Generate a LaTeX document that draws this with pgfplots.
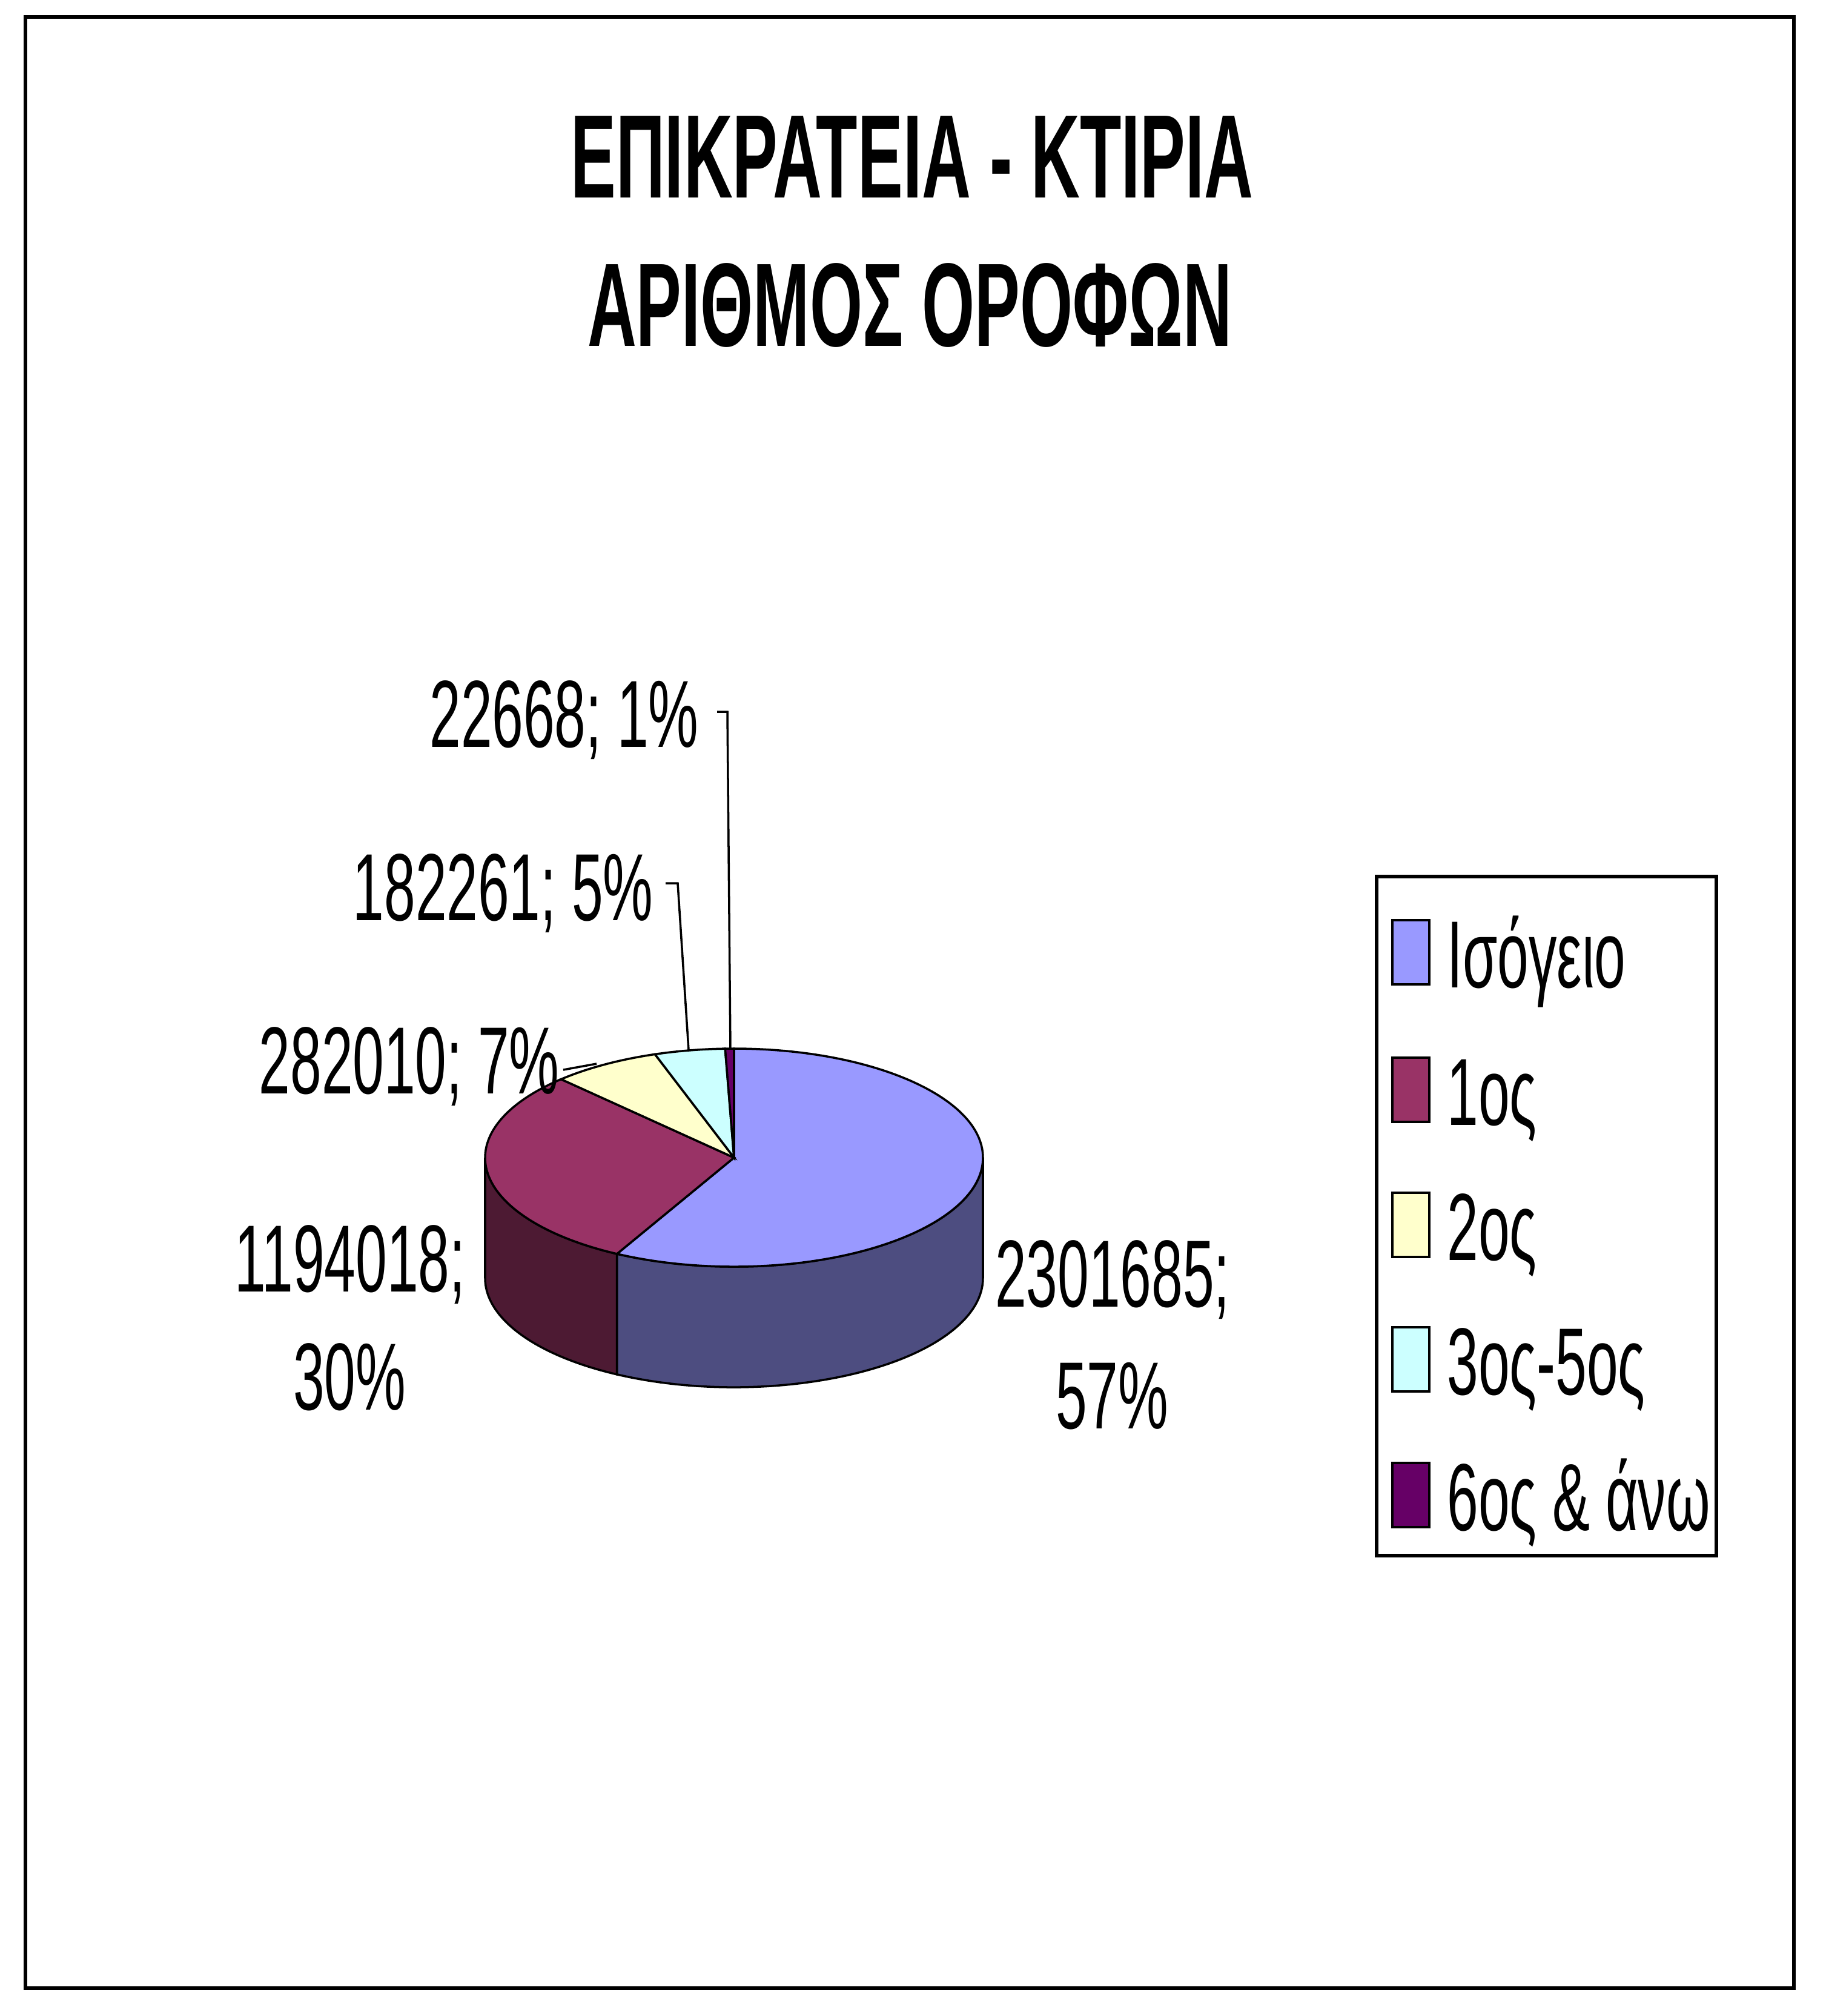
\documentclass[border=0pt]{standalone}
\usepackage{pgfplots}
\pgfplotsset{compat=1.18}
\usepackage{pgfplotstable}
\usepackage{fontspec}
\setmainfont{Liberation Sans}[FakeStretch=0.59, BoldFeatures={FakeStretch=0.571}]

\definecolor{isogeio}{HTML}{9999FF}
\definecolor{isogeioside}{HTML}{4D4D80}
\definecolor{protos}{HTML}{993366}
\definecolor{protosside}{HTML}{4D1A33}
\definecolor{deuteros}{HTML}{FFFFCC}
\definecolor{tritos}{HTML}{CCFFFF}
\definecolor{ektos}{HTML}{660066}

% buildings by number of floors
\pgfplotstableread{
value
2301685
1194018
282010
182261
22668
}\floors

\pgfplotstablegetelem{0}{value}\of\floors\edef\vA{\pgfplotsretval}
\pgfplotstablegetelem{1}{value}\of\floors\edef\vB{\pgfplotsretval}
\pgfplotstablegetelem{2}{value}\of\floors\edef\vC{\pgfplotsretval}
\pgfplotstablegetelem{3}{value}\of\floors\edef\vD{\pgfplotsretval}
\pgfplotstablegetelem{4}{value}\of\floors\edef\vE{\pgfplotsretval}
\edef\total{\fpeval{\vA+\vB+\vC+\vD+\vE}}
% slice boundaries, clockwise from 12 o'clock
\edef\aA{90}
\edef\aB{\fpeval{round(\aA-360*\vA/\total,4)}}
\edef\aC{\fpeval{round(\aB-360*\vB/\total,4)}}
\edef\aD{\fpeval{round(\aC-360*\vC/\total,4)}}
\edef\aE{\fpeval{round(\aD-360*\vD/\total,4)}}
\edef\aF{\fpeval{round(\aE-360*\vE/\total,4)}}

% pie geometry (axis units are pixels, 0.005cm each)
\def\cx{1212}
\def\cy{1911}
\def\R{2.055cm}
\def\r{0.9cm}
\def\d{0.995cm}
\tikzset{ell/.style={x radius=\R, y radius=\r},
  lab/.style={inner sep=0pt, font=\fontsize{22.4}{28.2}\selectfont},
  ttl/.style={inner sep=0pt, font=\fontsize{27.9}{34}\selectfont\bfseries}}

\begin{document}
\begin{tikzpicture}
\begin{axis}[
    scale only axis,
    width=15.075cm, height=16.64cm,
    xmin=0, xmax=3015, ymin=0, ymax=3328,
    y dir=reverse,
    hide axis, clip=false,
]
\path (rel axis cs:0,0) -- (rel axis cs:1,1);
\draw[line width=0.8pt] (axis cs:42,28) rectangle (axis cs:2962,3282);

% title
\node[ttl, anchor=base] at (axis cs:1506,326) {ΕΠΙΚΡΑΤΕΙΑ - ΚΤΙΡΙΑ};
\node[ttl, anchor=base] at (axis cs:1502,571) {ΑΡΙΘΜΟΣ ΟΡΟΦΩΝ};

% side faces
\filldraw[fill=isogeioside, draw=black, line width=0.5pt]
  (axis cs:\cx,\cy) ++(canvas polar cs:angle=0, x radius=\R, y radius=\r)
  arc[start angle=0, end angle=\aB, ell]
  -- ++(0,-\d) arc[start angle=\aB, end angle=0, ell] -- cycle;
\filldraw[fill=protosside, draw=black, line width=0.5pt]
  (axis cs:\cx,\cy) ++(canvas polar cs:angle=-180, x radius=\R, y radius=\r)
  arc[start angle=-180, end angle=\aB, ell]
  -- ++(0,-\d) arc[start angle=\aB, end angle=-180, ell] -- cycle;

% top faces
\filldraw[fill=isogeio, draw=black, line width=0.5pt]
  (axis cs:\cx,\cy) -- ++(canvas polar cs:angle=\aA, x radius=\R, y radius=\r)
  arc[start angle=\aA, end angle=\aB, ell] -- cycle;
\filldraw[fill=protos, draw=black, line width=0.5pt]
  (axis cs:\cx,\cy) -- ++(canvas polar cs:angle=\aB, x radius=\R, y radius=\r)
  arc[start angle=\aB, end angle=\aC, ell] -- cycle;
\filldraw[fill=deuteros, draw=black, line width=0.5pt]
  (axis cs:\cx,\cy) -- ++(canvas polar cs:angle=\aC, x radius=\R, y radius=\r)
  arc[start angle=\aC, end angle=\aD, ell] -- cycle;
\filldraw[fill=tritos, draw=black, line width=0.5pt]
  (axis cs:\cx,\cy) -- ++(canvas polar cs:angle=\aD, x radius=\R, y radius=\r)
  arc[start angle=\aD, end angle=\aE, ell] -- cycle;
\filldraw[fill=ektos, draw=black, line width=0.5pt]
  (axis cs:\cx,\cy) -- ++(canvas polar cs:angle=\aE, x radius=\R, y radius=\r)
  arc[start angle=\aE, end angle=\aF, ell] -- cycle;

% leader lines
\draw[line width=0.5pt] (axis cs:1184,1175) -- (axis cs:1201,1175) -- (axis cs:1206,1731);
\draw[line width=0.5pt] (axis cs:1099,1458) -- (axis cs:1119,1458) -- (axis cs:1137,1733);
\draw[line width=0.5pt] (axis cs:930,1766) -- (axis cs:985,1756);

% data labels
\node[lab, anchor=base east] at (axis cs:1155,1233) {22668; 1\%};
\node[lab, anchor=base east] at (axis cs:1080,1519) {182261; 5\%};
\node[lab, anchor=base east] at (axis cs:925,1805) {282010; 7\%};
\node[lab, anchor=base] at (axis cs:578,2132) {1194018;};
\node[lab, anchor=base] at (axis cs:577,2327) {30\%};
\node[lab, anchor=base] at (axis cs:1837,2157) {2301685;};
\node[lab, anchor=base] at (axis cs:1836,2358) {57\%};

% legend
\draw[line width=0.8pt] (axis cs:2273,1447) rectangle (axis cs:2834,2568);
\filldraw[fill=isogeio, line width=0.6pt] (axis cs:2299,1519) rectangle (axis cs:2360,1625);
\node[lab, anchor=base west] at (axis cs:2388,1630) {Ισόγειο};
\filldraw[fill=protos, line width=0.6pt] (axis cs:2299,1746) rectangle (axis cs:2360,1852);
\node[lab, anchor=base west] at (axis cs:2388,1857) {1ος};
\filldraw[fill=deuteros, line width=0.6pt] (axis cs:2299,1969) rectangle (axis cs:2360,2075);
\node[lab, anchor=base west] at (axis cs:2388,2080) {2ος};
\filldraw[fill=tritos, line width=0.6pt] (axis cs:2299,2191) rectangle (axis cs:2360,2297);
\node[lab, anchor=base west] at (axis cs:2388,2302) {3ος-5ος};
\filldraw[fill=ektos, line width=0.6pt] (axis cs:2299,2415) rectangle (axis cs:2360,2521);
\node[lab, anchor=base west] at (axis cs:2388,2526) {6ος \& άνω};
\end{axis}
\end{tikzpicture}
\end{document}
